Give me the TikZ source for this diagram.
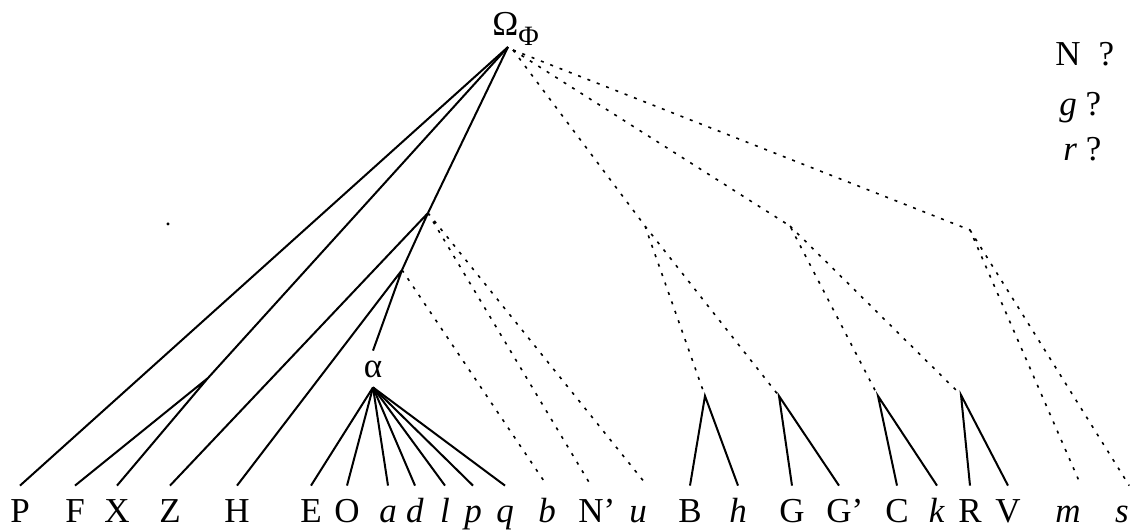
\documentclass[tikz,border=0pt]{standalone}
\usepackage{fontspec}
\setmainfont{Liberation Serif}
\begin{document}
\begin{tikzpicture}[x=0.5pt,y=-0.5pt] % one unit is one pixel of the page, y grows downwards
\tikzset{every node/.style={font=\fontsize{17.5}{21}\selectfont}} % same size of letters everywhere
\tikzset{leaf/.style={anchor=base, inner xsep=0pt, inner ysep=5pt, text height=13pt, text depth=0pt}} % words on the bottom line
\tikzset{branch/.style={line width=1pt}, trace/.style={line width=0.8pt, dash pattern=on 1.5pt off 3.5pt}}
\useasboundingbox (0,0) rectangle (1141,531);
% top of the tree
\node[anchor=base west, inner sep=0pt] (root) at (492,35) {Ω\raisebox{-5pt}{\fontsize{14}{14}\selectfont Φ}};
\coordinate (rt) at (508,47);
\coordinate (rd) at (513,50);
\node[inner sep=0pt, font=\fontsize{12}{12}\selectfont] (dot) at (168,224) {.};
% questions on the right
\node[anchor=base west, inner sep=0pt] (qN) at (1055,65) {N\hspace{9pt}?};
\node[anchor=base west, inner sep=0pt] (qg) at (1059,115) {\textit{g} ?};
\node[anchor=base west, inner sep=0pt] (qr) at (1063,160) {\textit{r} ?};
% branching points
\coordinate (J1) at (208,378); \coordinate (J2) at (428,213); \coordinate (J3) at (402,270);
\coordinate (K1) at (645,226); \coordinate (K2) at (790,226); \coordinate (K3) at (970,230);
\coordinate (Bn) at (705,396); \coordinate (Gn) at (779,396); \coordinate (Cn) at (878,396); \coordinate (Rn) at (961,395);
\node[anchor=base, inner xsep=0pt, inner ysep=5pt, text height=8pt, text depth=0pt] (alpha) at (373,377) {α};
% bottom line
\node[leaf] (P) at (20,522) {P}; \node[leaf] (F) at (75,522) {F}; \node[leaf] (X) at (117,522) {X};
\node[leaf] (Z) at (170,522) {Z}; \node[leaf] (H) at (237,522) {H};
\node[leaf] (E) at (311,522) {E}; \node[leaf] (O) at (347,522) {O}; \node[leaf] (a) at (388,522) {\textit{a}};
\node[leaf] (d) at (415,522) {\textit{d}}; \node[leaf] (l) at (445,522) {\textit{l}}; \node[leaf] (p) at (473,522) {\textit{p}};
\node[leaf] (q) at (505,522) {\textit{q}}; \node[leaf] (b) at (547,522) {\textit{b}};
\node[leaf] (Np) at (591,522) {N\rlap{'}}; \node[leaf] (u) at (638,522) {\textit{u}};
\node[leaf] (B) at (690,522) {B}; \node[leaf] (h) at (738,522) {\textit{h}};
\node[leaf] (G) at (792,522) {G}; \node[leaf] (Gp) at (839,522) {G\rlap{'}};
\node[leaf] (C) at (897,522) {C}; \node[leaf] (k) at (937,522) {\textit{k}};
\node[leaf] (R) at (970,522) {R}; \node[leaf] (V) at (1008,522) {V};
\node[leaf] (m) at (1068,522) {\textit{m}}; \node[leaf] (s) at (1122,522) {\textit{s}};
% solid branches
\draw[branch] (rt) -- (P.north);
\draw[branch] (rt) -- (J1) -- (F.north) (J1) -- (X.north);
\draw[branch] (rt) -- (J2) -- (Z.north) (J2) -- (J3) -- (H.north) (J3) -- (alpha.north);
\foreach \c in {E,O,a,d,l,p,q} \draw[branch] (alpha.south) -- (\c.north);
\draw[branch] (B.north) -- (Bn) -- (h.north) (G.north) -- (Gn) -- (Gp.north);
\draw[branch] (C.north) -- (Cn) -- (k.north) (R.north) -- (Rn) -- (V.north);
% dotted branches
\draw[trace] (J3) -- (b.north) (J2) -- (Np.north) (J2) -- (u.north east);
\draw[trace] (rd) -- (K1) -- (Bn) (K1) -- (Gn);
\draw[trace] (rd) -- (K2) -- (Cn) (K2) -- (Rn);
\draw[trace] (rd) -- (K3) -- (m.north east) (K3) -- (s.north east);
\end{tikzpicture}
\end{document}
